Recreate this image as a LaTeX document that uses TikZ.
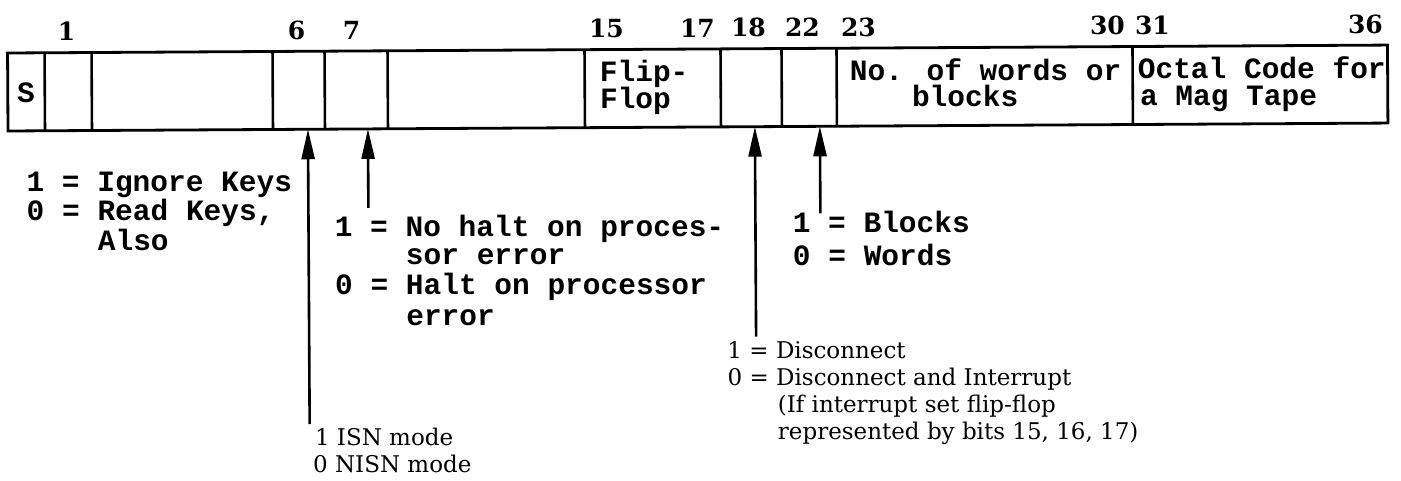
\documentclass[tikz,border=0pt]{standalone}
\usepackage{fontspec}
\usetikzlibrary{arrows.meta}
\newfontfamily\regmonofam{Liberation Mono}
\newfontfamily\regnumfam{DejaVu Serif}
\newfontfamily\regseriffam{DejaVu Serif}
\newcommand\regmono{\regmonofam\bfseries\fontsize{29.5}{32}\selectfont}
\newcommand\regnum{\regnumfam\bfseries\fontsize{25}{28}\selectfont}
\newcommand\regserif{\regseriffam\fontsize{23}{28}\selectfont}
\tikzset{
  mono/.style={font=\regmono, anchor=base west, inner sep=0pt},
  bitnum/.style={font=\regnum, anchor=base, inner sep=0pt},
  note/.style={font=\regserif, anchor=base west, inner sep=0pt},
  reg/.style={line width=2.8pt},
  div/.style={line width=2.6pt},
  ptr/.style={line width=2.6pt, -{Triangle[length=30pt,width=13pt]}},
}
\begin{document}
\begin{tikzpicture}[x=1pt,y=-1pt]
\useasboundingbox (0,0) rectangle (1401,481);
\begin{scope}[rotate around={0.33:(8,131)}]
  % register outline and cell dividers
  \draw[reg] (8,53) rectangle (1388,131);
  \foreach \x in {45,92,273,325,388,585,721,782,837,1133}
    \draw[div] (\x,53) -- (\x,131);
  % bit numbers
  \node[bitnum] (n1)  at (67,41)   {1};
  \node[bitnum] (n6)  at (297,41)  {6};
  \node[bitnum] (n7)  at (352,41)  {7};
  \node[bitnum] (n15) at (607,41)  {15};
  \node[bitnum] (n17) at (698,41)  {17};
  \node[bitnum] (n18) at (749,41)  {18};
  \node[bitnum] (n22) at (803,41)  {22};
  \node[bitnum] (n23) at (859,41)  {23};
  \node[bitnum] (n30) at (1108,41) {30};
  \node[bitnum] (n31) at (1153,41) {31};
  \node[bitnum] (n36) at (1366,41) {36};
  % cell texts
  \node[mono] (s)      at (17,103)   {S};
  \node[mono] (flip)   at (600,85)   {Flip-};
  \node[mono] (flop)   at (600,112)  {Flop};
  \node[mono] (words)  at (850,85)   {No. of words or};
  \node[mono] (blocks) at (912,112)  {blocks};
  \node[mono] (octal)  at (1138,85)  {Octal Code for};
  \node[mono] (tape)   at (1140,112) {a Mag Tape};
  % attachment points on the register
  \coordinate (b6)  at (308,131);
  \coordinate (b7)  at (368,131);
  \coordinate (b18) at (755,131);
  \coordinate (b22) at (820,131);
  % free ends of the pointers
  \coordinate (e6)  at (308,426);
  \coordinate (e7)  at (368,210);
  \coordinate (e18) at (755,341);
  \coordinate (e22) at (820,218);
  \draw[ptr] (e6) -- (b6);
  \draw[ptr] (e7) -- (b7);
  \draw[ptr] (e18) -- (b18);
  \draw[ptr] (e22) -- (b22);
  % explanations
  \node[mono] (ig1) at (26,192) {1 = Ignore Keys};
  \node[mono] (ig2) at (26,221) {0 = Read Keys,};
  \node[mono] (ig3) at (97,251) {Also};
  \node[mono] (nh1) at (334,238) {1 = No halt on proces-};
  \node[mono] (nh2) at (405,267) {sor error};
  \node[mono] (nh3) at (334,296) {0 = Halt on processor};
  \node[mono] (nh4) at (405,328) {error};
  \node[mono] (bw1) at (792,237) {1 = Blocks};
  \node[mono] (bw2) at (792,270) {0 = Words};
  \node[note] (dc1) at (726,363) {1 = Disconnect};
  \node[note] (dc2) at (726,390) {0 = Disconnect and Interrupt};
  \node[note] (dc3) at (776,417) {(If interrupt set flip-flop};
  \node[note] (dc4) at (776,444) {represented by bits 15, 16, 17)};
  \node[note] (is1) at (313,447) {1 ISN mode};
  \node[note] (is2) at (311,474) {0 NISN mode};
\end{scope}
\end{tikzpicture}
\end{document}
